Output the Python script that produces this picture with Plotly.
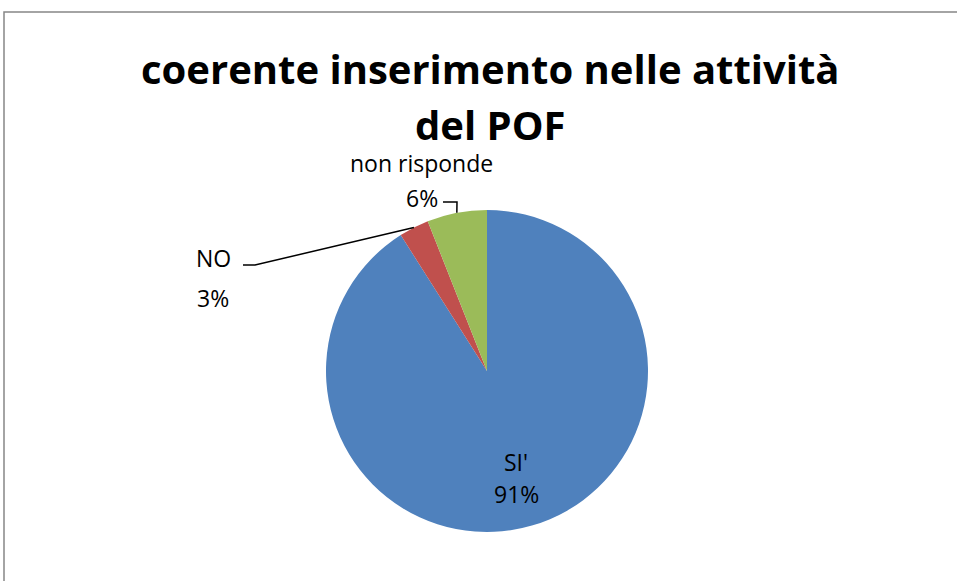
import numpy as np
import plotly.graph_objects as go

categories = ["SI'", "NO", "non risponde"]
values = [91, 3, 6]
colors = ["#4F81BD", "#C0504D", "#9BBB59"]
title_lines = ["coerente inserimento nelle attività", "del POF"]

W, H = 957, 581
cx, cy, R = 487, 371, 161  # pie centre / radius in pixels (layout)

fig = go.Figure(go.Pie(
    labels=categories, values=values, sort=False, direction="clockwise", rotation=0,
    marker=dict(colors=colors, line=dict(width=0)),
    textinfo="none", hoverinfo="label+percent", showlegend=False,
    domain=dict(x=[(cx - R) / W, (cx + R) / W], y=[1 - (cy + R) / H, 1 - (cy - R) / H]),
))

# slice mid-angles computed from the data (clockwise from 12 o'clock)
vals = np.array(values, dtype=float)
frac = vals / vals.sum()
cum = np.cumsum(frac)
mid = (cum - frac / 2) * 2 * np.pi
pct = [f"{round(f * 100)}%" for f in frac]

def px(x, y):
    return x / W, 1 - y / H

FAM = "'Open Sans', Lato, sans-serif"
font = dict(family=FAM, size=23, color="#000000")
ann = []
# title
for t, y in zip(title_lines, (68, 125)):
    xx, yy = px(490, y)
    ann.append(dict(x=xx, y=yy, xref="paper", yref="paper", text=f"<b>{t}</b>", showarrow=False,
                    font=dict(family=FAM, size=40, color="#000000"),
                    xanchor="center", yanchor="middle"))
# data labels (layout positions)
label_pos = {
    0: [(516, 462), (516, 494)],
    1: [(213, 258), (213, 298)],
    2: [(421, 163), (422, 198)],
}
for i in range(3):
    (x1, y1), (x2, y2) = label_pos[i]
    for (x, y), t in (((x1, y1), categories[i]), ((x2, y2), pct[i])):
        xx, yy = px(x, y)
        ann.append(dict(x=xx, y=yy, xref="paper", yref="paper", text=t, showarrow=False,
                        font=font, xanchor="center", yanchor="middle"))

shapes = []
# leader lines, ending on the slice edge at the slice's mid-angle
leader_start = {1: [(243, 265), (255, 265)], 2: [(443, 202), (457, 202)]}
for i, pts in leader_start.items():
    ex = cx + R * np.sin(mid[i])
    ey = cy - R * np.cos(mid[i])
    path_pts = pts + [(float(ex), float(ey))]
    path = "M " + " L ".join(f"{px(x, y)[0]:.5f},{px(x, y)[1]:.5f}" for x, y in path_pts)
    shapes.append(dict(type="path", xref="paper", yref="paper", path=path,
                       line=dict(color="#000000", width=1.5)))

# chart border
shapes.append(dict(type="rect", xref="paper", yref="paper",
                   x0=4 / W, x1=1.01, y0=-0.01, y1=1 - 12 / H,
                   line=dict(color="#868686", width=1.5), fillcolor="rgba(0,0,0,0)"))

fig.update_layout(
    width=W, height=H, margin=dict(l=0, r=0, t=0, b=0),
    paper_bgcolor="#FFFFFF", plot_bgcolor="#FFFFFF",
    annotations=ann, shapes=shapes,
)

fig.write_html("out.html", config={"displayModeBar": False},
               post_script="document.body.style.margin='0';document.body.style.overflow='hidden';")
